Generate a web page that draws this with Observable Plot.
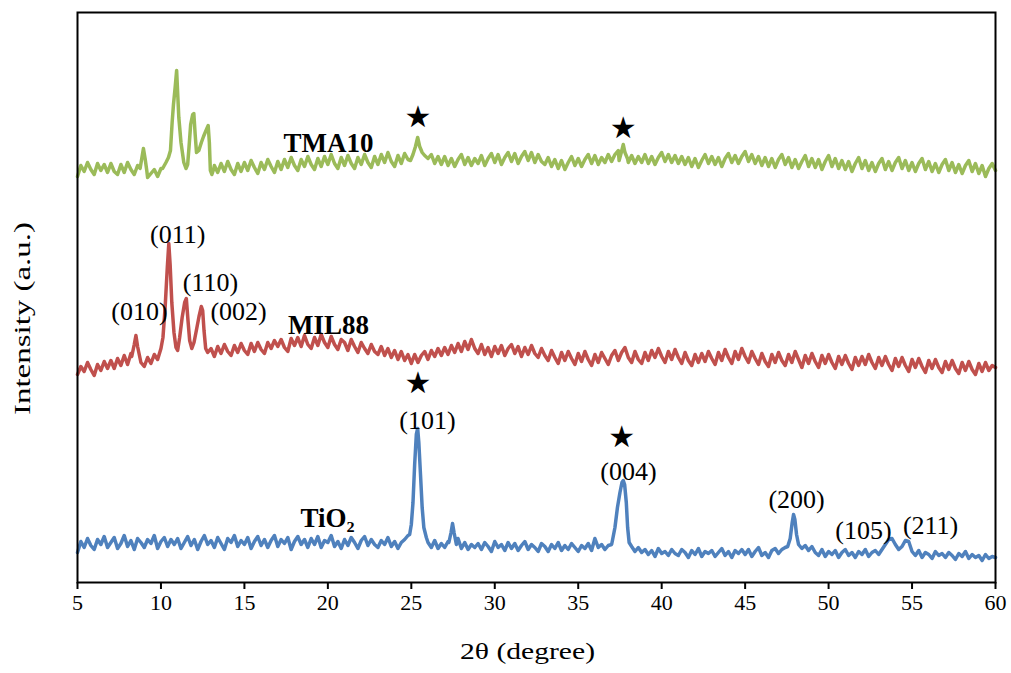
<!DOCTYPE html>
<html><head><meta charset="utf-8">
<script src="https://cdn.jsdelivr.net/npm/d3@7"></script>
<script src="https://cdn.jsdelivr.net/npm/@observablehq/plot@0.6"></script>
<style>
body{margin:0;background:#fff}
#chart svg, #chart svg text { font-family: "Liberation Serif", "Times New Roman", serif !important; }
#chart svg g.star text { font-family: "DejaVu Sans", sans-serif !important; }
</style>
</head><body><div id="chart"></div>
<script>
// x grid: 5.0 .. 60.0, step 0.2 (276 points); intensities in arbitrary units (offset stacks)
const gridStart = 5, gridStep = 0.2;
const xTicks = [5,10,15,20,25,30,35,40,45,50,55,60];

const tio2Values = [
 30,41,35,44,37,33,43,38,46,35,
 40,45,34,39,47,36,42,33,44,40,
 35,43,39,47,34,41,45,36,43,38,
 44,34,40,46,37,43,33,41,47,38,
 42,35,45,39,33,44,40,47,36,42,
 38,45,34,41,46,37,43,35,42,47,
 36,43,39,45,33,41,46,38,43,35,
 44,38,46,35,42,40,47,36,41,34,
 43,37,45,40,34,42,46,37,43,38,
 35,42,38,45,36,41,34,40,43,47,
 60,120,150,115,60,40,35,42,34,39,
 35,41,45,60,44,34,40,33,38,35,
 39,33,40,36,31,41,35,38,32,40,
 34,39,32,37,41,33,38,35,31,39,
 36,31,38,34,40,32,37,33,39,35,
 31,37,34,39,32,44,35,38,33,37,
 38,60,92,95,60,40,36,31,35,30,
 33,28,32,26,34,29,31,27,33,29,
 27,33,30,25,32,28,34,26,31,29,
 32,26,30,34,27,31,25,32,29,33,
 28,33,26,31,35,27,30,25,32,34,
 29,33,35,40,68,45,40,34,37,32,
 36,30,27,33,26,31,28,32,25,30,
 33,27,30,25,31,28,33,26,30,32,
 28,33,38,43,44,38,33,36,42,41,
 31,27,32,25,30,28,24,31,27,29,
 25,30,27,23,29,26,31,24,28,25,
 27,22,28,24,26,25
];
const tio2Peaks = [
 [[24.9,48],[25.0,58],[25.1,80],[25.2,118],[25.3,148],[25.38,154],[25.45,140],[25.55,108],[25.65,75],[25.75,55],[25.9,45]],
 [[27.25,40],[27.38,50],[27.47,59],[27.56,50],[27.7,38]],
 [[37.05,42],[37.2,55],[37.35,75],[37.5,90],[37.62,100],[37.7,102],[37.78,98],[37.88,80],[37.96,55],[38.05,40]],
 [[47.55,36],[47.7,44],[47.82,60],[47.9,68],[47.98,63],[48.08,48],[48.2,38]]
];

const mil88Values = [
 208,216,211,220,213,207,218,212,221,214,
 222,214,224,217,227,218,229,222,235,220,
 216,225,219,228,223,230,232,240,300,250,
 235,262,283,240,236,250,262,275,240,229,
 234,226,236,229,238,231,227,237,230,239,
 232,228,239,231,240,233,229,240,234,242,
 236,243,235,231,244,237,245,236,247,238,
 234,245,237,248,240,235,246,238,233,243,
 240,232,243,236,230,240,234,229,238,231,
 228,236,227,234,225,232,223,231,222,228,
 219,228,220,227,231,223,232,226,234,227,
 235,228,237,230,239,231,241,233,243,234,
 229,238,228,235,226,236,229,237,227,234,
 238,229,236,226,235,228,237,229,225,234,
 227,222,232,225,219,230,222,231,224,218,
 229,221,231,223,217,228,220,230,224,218,
 227,232,222,230,235,225,220,231,223,219,
 230,222,232,225,234,226,220,231,223,233,
 225,219,230,222,217,228,220,229,221,231,
 224,218,230,222,233,225,219,231,223,234,
 226,220,231,224,218,229,221,216,228,220,
 230,222,217,228,220,231,223,215,227,219,
 229,221,215,227,219,228,220,214,226,218,
 227,219,213,225,217,226,218,228,220,214,
 225,217,226,218,212,224,216,225,217,211,
 223,215,224,216,210,222,214,223,215,210,
 221,213,222,214,209,220,212,221,213,208,
 219,211,220,212,217,215
];
const mil88Peaks = [
 [[8.25,226],[8.4,238],[8.5,247],[8.6,236],[8.75,224]],
 [[10.0,234],[10.12,245],[10.25,275],[10.38,315],[10.47,339],[10.55,318],[10.65,280],[10.78,250],[10.9,235],[11.0,232],[11.12,245],[11.27,265],[11.42,280],[11.52,284],[11.62,262],[11.72,242],[11.85,234],[11.98,240],[12.12,252],[12.28,266],[12.42,276],[12.5,272],[12.58,252],[12.68,234],[12.8,230]]
];

const tma10Values = [
 406,417,411,420,413,408,419,412,418,410,
 419,411,408,418,410,420,413,408,417,421,
 416,405,409,413,406,414,417,424,470,505,
 480,420,445,468,430,430,440,452,455,412,
 410,417,410,419,411,421,413,408,419,411,
 420,412,422,415,409,420,413,423,416,410,
 421,413,423,415,425,417,412,423,416,426,
 418,413,424,416,426,418,428,419,414,425,
 417,427,419,414,425,418,428,420,415,426,
 418,428,420,430,421,416,427,419,429,423,
 430,440,442,430,426,421,428,419,426,418,
 426,417,424,416,423,428,418,425,417,424,
 419,427,417,424,429,420,428,418,425,430,
 421,429,419,426,431,422,430,420,428,421,
 418,425,416,423,414,422,413,420,426,417,
 424,416,423,428,419,427,418,425,420,428,
 421,428,432,438,428,420,427,419,426,420,
 428,419,426,418,425,430,421,428,420,427,
 419,426,418,425,416,424,415,422,428,419,
 426,418,425,416,424,429,420,427,419,426,
 431,421,428,419,426,417,425,416,424,415,
 423,428,418,425,415,423,414,421,427,416,
 424,415,423,413,421,427,416,424,414,422,
 413,421,411,419,425,414,422,412,420,411,
 419,424,413,421,412,420,425,414,422,412,
 420,411,419,424,413,421,411,419,410,418,
 423,412,420,410,418,409,417,422,411,419,
 409,417,406,414,419,412
];
const tma10Peaks = [
 [[8.75,414],[8.85,424],[8.95,434],[9.05,424],[9.15,412]],
 [[10.1,414],[10.3,420],[10.45,425],[10.57,432],[10.67,460],[10.75,478],[10.85,495],[10.94,512],[11.0,490],[11.07,465],[11.2,440],[11.37,420],[11.5,414],[11.6,418],[11.68,435],[11.78,458],[11.9,468],[11.97,469],[12.05,448],[12.13,430],[12.27,432],[12.42,440],[12.55,446],[12.7,452],[12.83,457],[12.9,440],[12.96,412],[13.05,408],[13.15,413]],
 [[24.95,422],[25.1,428],[25.25,436],[25.38,445],[25.5,436],[25.65,430],[25.8,427],[26.0,424]],
 [[37.45,422],[37.58,430],[37.7,438],[37.8,430],[37.95,424]]
];

const seriesNames = ["TiO2", "MIL88", "TMA10"];
const seriesColors = ["#4F81BD", "#C0504D", "#9BBB59"];

const peakLabelText = ["(010)","(011)","(110)","(002)","(101)","(004)","(200)","(105)","(211)"];
const peakLabelX = [8.71, 11.0, 12.97, 14.65, 25.97, 38.01, 48.08, 52.09, 56.11];
const peakLabelY = [271, 348, 300, 271, 162, 111, 83, 52, 57];

const sampleLabelText = ["TMA10", "MIL88", "TiO\u2082"];
const sampleLabelX = [20.04, 20.04, 19.98];
const sampleLabelY = [439, 257, 64];

const starX = [25.4, 37.7, 25.4, 37.6];
const starY = [465, 454, 199, 145];

const xTitle = "2\u03B8 (degree)";
const yTitle = "Intensity (a.u.)";

function build(values, peaks, name) {
  const pts = values.map((v, i) => ({x: +(gridStart + i * gridStep).toFixed(2), y: v, name}));
  const ranges = peaks.map(p => [p[0][0], p[p.length - 1][0]]);
  const kept = pts.filter(p => !ranges.some(([a, b]) => p.x >= a && p.x <= b));
  peaks.forEach(pk => pk.forEach(([x, y]) => kept.push({x, y, name})));
  return kept.sort((a, b) => a.x - b.x);
}

const series = [
  build(tio2Values, tio2Peaks, seriesNames[0]),
  build(mil88Values, mil88Peaks, seriesNames[1]),
  build(tma10Values, tma10Peaks, seriesNames[2])
];

const peakLabels = peakLabelText.map((t, i) => ({t, x: peakLabelX[i], y: peakLabelY[i]}));
const sampleLabels = sampleLabelText.map((t, i) => ({t, x: sampleLabelX[i], y: sampleLabelY[i]}));
const stars = starX.map((x, i) => ({x, y: starY[i]}));

const chart = Plot.plot({
  width: 1011, height: 673,
  marginTop: 12, marginRight: 16, marginBottom: 91, marginLeft: 77,
  style: {fontFamily: "Liberation Serif", fontSize: "22px", color: "black", background: "white"},
  x: {domain: [5, 60], label: null},
  y: {domain: [0, 570], axis: null},
  marks: [
    ...series.map((s, i) => Plot.line(s, {x: "x", y: "y", stroke: seriesColors[i], strokeWidth: 3.5, strokeLinejoin: "round"})),
    Plot.frame({stroke: "black", strokeWidth: 2}),
    Plot.axisX({ticks: xTicks, tickSize: 7, tickPadding: 5, tickFormat: d => String(d), label: null, fontSize: 22, strokeWidth: 2}),
    Plot.text(peakLabels, {x: "x", y: "y", text: "t", fontSize: 26, fill: "black"}),
    Plot.text(sampleLabels, {x: "x", y: "y", text: "t", fontSize: 27, fontWeight: "bold", fill: "black"}),
    Plot.text(stars, {x: "x", y: "y", text: () => "\u2605", fontSize: 30, fill: "black", className: "star"}),
    Plot.text([xTitle], {text: d => d, frameAnchor: "bottom", dx: -9, dy: 76, fontSize: 24, fill: "black", className: "xlab"}),
    Plot.text([yTitle], {text: d => d, frameAnchor: "left", rotate: -90, dx: -55, dy: 21, fontSize: 24, fill: "black", className: "ylab"})
  ]
});
document.getElementById("chart").appendChild(chart);
function stretch(sel, len) {
  chart.querySelectorAll(sel).forEach(t => {
    const x0 = +(t.getAttribute("x") || 0);
    t.setAttribute("text-anchor", "start");
    t.setAttribute("x", x0 - len / 2);
    t.setAttribute("textLength", len);
    t.setAttribute("lengthAdjust", "spacingAndGlyphs");
  });
}
stretch(".xlab text", 135);
stretch(".ylab text", 193);
</script>
</body></html>
